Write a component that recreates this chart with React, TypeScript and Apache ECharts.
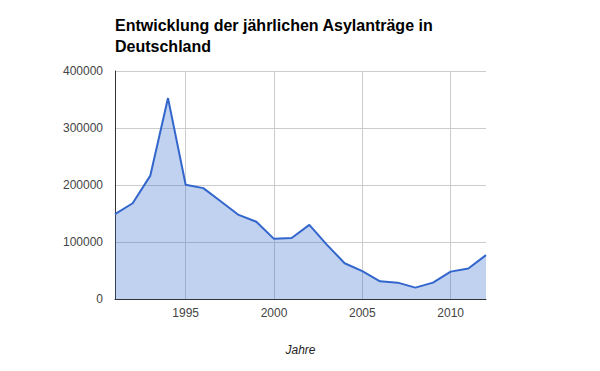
import React, { useEffect, useRef } from "react";
import * as echarts from "echarts";

const years: string[] = [
  "1991", "1992", "1993", "1994", "1995", "1996", "1997", "1998", "1999", "2000", "2001",
  "2002", "2003", "2004", "2005", "2006", "2007", "2008", "2009", "2010", "2011", "2012",
];
const antraege: number[] = [
  149000, 168000, 216500, 352500, 200500, 194500, 171000, 147500, 135500, 105500, 107000,
  130000, 95000, 62700, 49000, 31000, 28700, 20000, 28700, 48000, 53500, 77000,
];
const titleText = "Entwicklung der jährlichen Asylanträge in\nDeutschland";
const xAxisName = "Jahre";

export default function App() {
  const ref = useRef<HTMLDivElement>(null);
  useEffect(() => {
    const chart = echarts.init(ref.current!, null, { renderer: "svg" });
    chart.setOption({
      animation: false,
      title: {
        text: titleText,
        left: 110,
        top: 10,
        textStyle: {
          fontFamily: "Liberation Sans, Arial, sans-serif",
          fontSize: 16,
          fontWeight: "bold",
          color: "#000",
          lineHeight: 21,
        },
      },
      grid: { left: 115, right: 114, top: 71, bottom: 72, containLabel: false },
      xAxis: {
        type: "category",
        data: years,
        boundaryGap: false,
        name: xAxisName,
        nameLocation: "middle",
        nameGap: 45,
        nameTextStyle: {
          fontFamily: "Liberation Sans, Arial, sans-serif",
          fontSize: 12,
          fontStyle: "italic",
          color: "#222",
        },
        axisLine: { show: true, lineStyle: { color: "#333", width: 1 } },
        axisTick: { show: false },
        axisLabel: {
          interval: (i: number, v: string) => Number(v) % 5 === 0,
          fontFamily: "Liberation Sans, Arial, sans-serif",
          fontSize: 12,
          color: "#444",
          margin: 8,
        },
        splitLine: {
          show: true,
          interval: (i: number, v: string) => Number(v) % 5 === 0,
          lineStyle: { color: "#cccccc", width: 1 },
        },
      },
      yAxis: {
        type: "value",
        min: 0,
        max: 400000,
        interval: 100000,
        axisLine: { show: true, lineStyle: { color: "#333", width: 1 } },
        axisTick: { show: false },
        axisLabel: {
          formatter: (v: number) => String(v),
          fontFamily: "Liberation Sans, Arial, sans-serif",
          fontSize: 12,
          color: "#444",
          margin: 12,
        },
        splitLine: { show: true, lineStyle: { color: "#cccccc", width: 1 } },
      },
      series: [
        {
          type: "line",
          data: antraege,
          symbol: "none",
          lineStyle: { color: "#3366cc", width: 2 },
          areaStyle: { color: "#3366cc", opacity: 0.3 },
          z: 3,
        },
      ],
    });
    return () => chart.dispose();
  }, []);
  return <div ref={ref} style={{ width: 600, height: 371, position: "absolute", left: 0, top: 0 }} />;
}
